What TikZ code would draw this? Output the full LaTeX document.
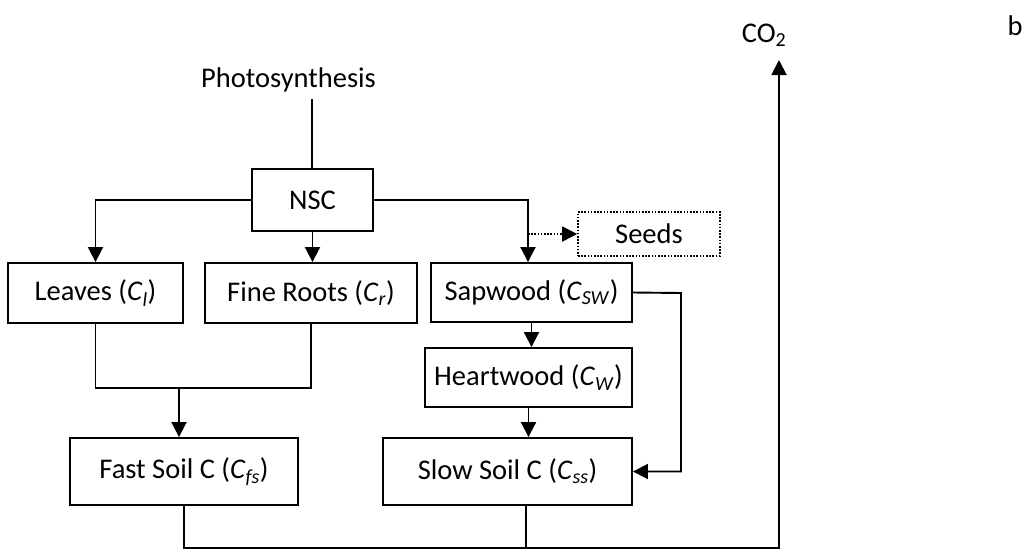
\documentclass[tikz,border=0pt]{standalone}
\usepackage{fontspec}
\setmainfont{Carlito}
\usetikzlibrary{arrows.meta}
\newcommand\csub[1]{\textit{C}\textsubscript{\textit{#1}}}
\begin{document}
\begin{tikzpicture}[x=1pt,y=-1pt,
  txt/.style={font=\fontsize{28.5}{34}\selectfont},
  box/.style={txt,draw,line width=1.9pt,inner sep=0pt},
  dbox/.style={txt,draw,line width=1.6pt,dash pattern=on 1.6pt off 1.6pt,inner sep=0pt},
  lbl/.style={txt,inner sep=0pt},
  conn/.style={line width=1.9pt},
  tip/.style={-{Triangle[width=15pt,length=15pt]}},
  arr/.style={conn,tip},
  dots/.style={line width=1.6pt,dash pattern=on 1.6pt off 1.6pt,tip}]
\useasboundingbox (0,0) rectangle (1029,550);
% nodes
\node[lbl,anchor=base] (photo) at (288.5,87) {Photosynthesis};
\node[box,minimum width=121pt,minimum height=62pt] (nsc) at (312.5,200) {NSC};
\node[box,minimum width=175pt,minimum height=60pt] (leaves) at (95.5,293) {Leaves (\csub{l})};
\node[box,minimum width=212pt,minimum height=60pt] (roots) at (311,293) {Fine Roots (\csub{r})};
\node[box,minimum width=201pt,minimum height=59pt] (sap) at (531.5,292.5) {Sapwood (\csub{SW})};
\node[dbox,minimum width=142pt,minimum height=44pt] (seeds) at (649,234) {Seeds};
\node[box,minimum width=207pt,minimum height=59pt] (heart) at (528.5,377.5) {Heartwood (\csub{W})};
\node[box,minimum width=228pt,minimum height=67pt] (fast) at (184,471.5) {Fast Soil C (\csub{fs})};
\node[box,minimum width=249pt,minimum height=67pt] (slow) at (507.5,471.5) {Slow Soil C (\csub{ss})};
\node[lbl,anchor=base] (co2) at (764,42) {CO\textsubscript{2}};
\node[lbl,anchor=base] (b) at (1015,35) {b};
% helper coordinates
\coordinate (ptop) at (312,99);
\coordinate (j1) at (528,200);
\coordinate (j2) at (528,234);
\coordinate (mid) at (179,388);
\coordinate (j3) at (681,293);
\coordinate (bl) at (184,548);
\coordinate (br) at (779,548);
\coordinate (co2tip) at (779,60);
% connectors
\draw[conn] (ptop) -- (ptop |- nsc.north);
\draw[arr] (nsc.west) -| (leaves.north);
\draw[arr] (nsc.south) -- (nsc.south |- roots.north);
\draw[arr] (nsc.east) -- (j1) -- (j1 |- sap.north);
\draw[dots] (j2) -- (seeds.west);
\draw[conn] (leaves.south) |- (mid) -| (roots.south);
\draw[arr] (mid) -- (mid |- fast.north);
\draw[arr] (sap.south) -- (sap.south |- heart.north);
\draw[arr] (heart.south) -- (heart.south |- slow.north);
\draw[arr] (sap.east) -- (j3) |- (slow.east);
\draw[arr] (fast.south) -- (bl) -- (br) -- (co2tip);
\draw[conn] ([xshift=18.5pt]slow.south) -- ([xshift=18.5pt]slow.south |- bl);
\end{tikzpicture}
\end{document}
